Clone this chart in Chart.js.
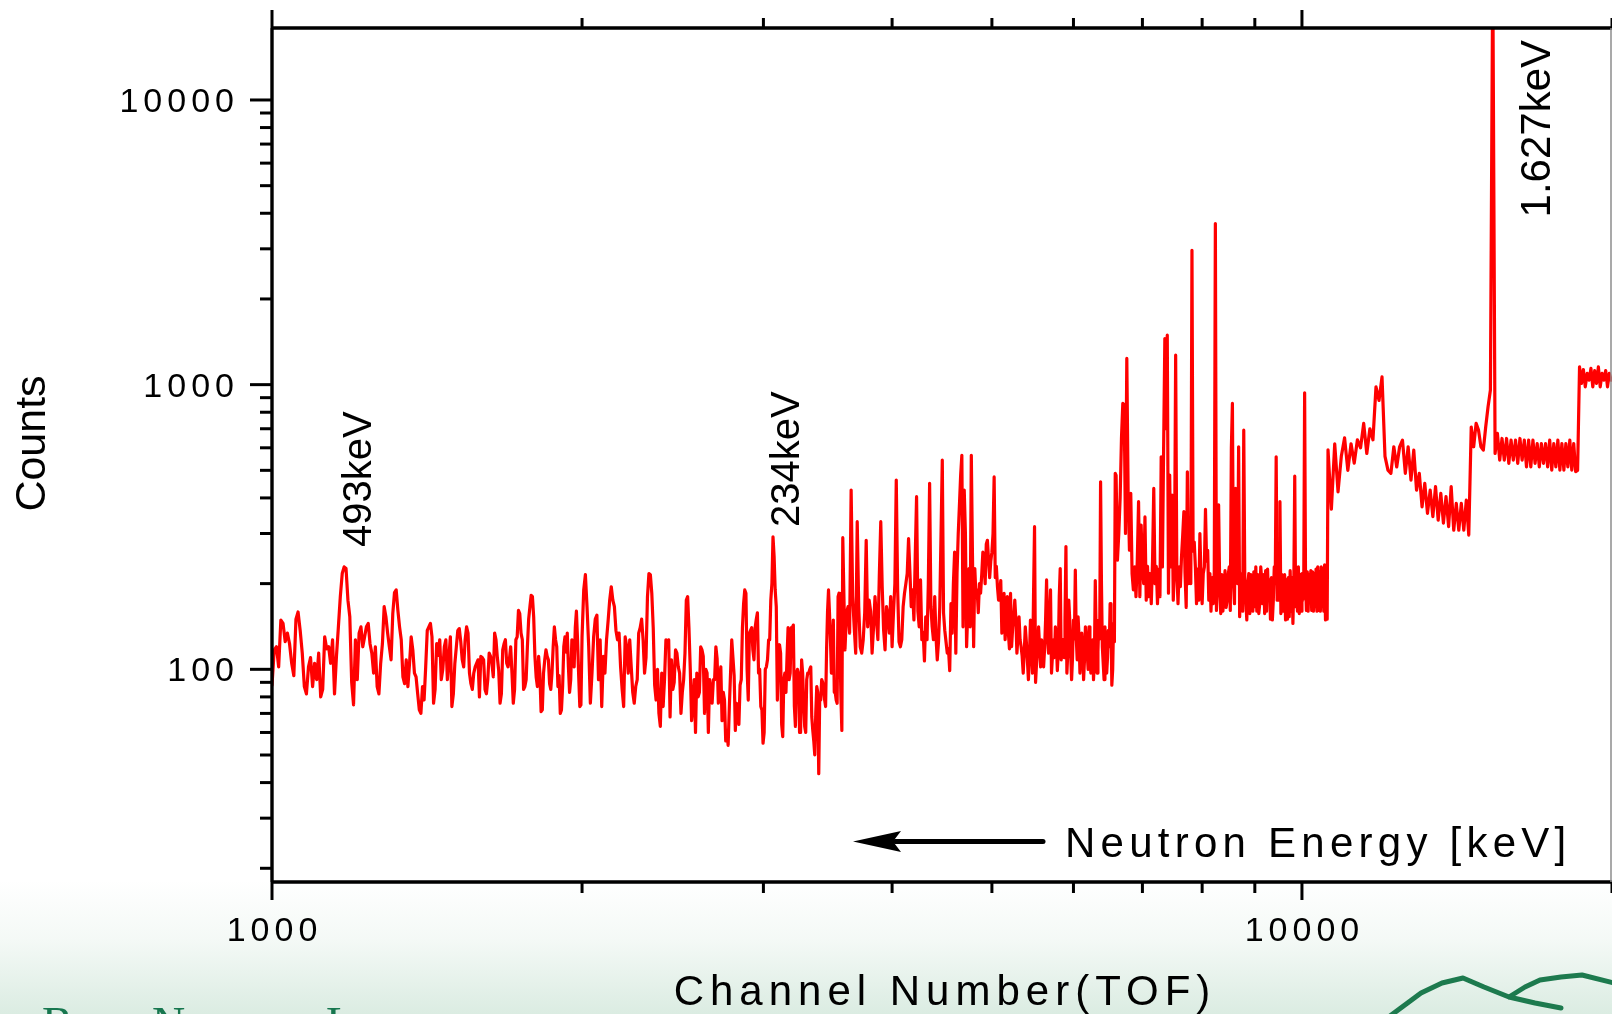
<!DOCTYPE html>
<html>
<head>
<meta charset="utf-8">
<title>Counts vs Channel Number (TOF)</title>
<script src="https://cdn.jsdelivr.net/npm/chart.js@4.4.1/dist/chart.umd.min.js"></script>
<style>
  html, body { margin: 0; padding: 0; }
  body {
    width: 1612px;
    height: 1014px;
    overflow: hidden;
    background: linear-gradient(to bottom, #ffffff 0px, #ffffff 880px, #f4f9f6 940px, #dbece2 1014px);
  }
  canvas { display: block; }
</style>
</head>
<body>
<canvas id="spectrum" width="1612" height="1014"></canvas>
<script>
// ====== DATA ======
// each piece of the spectrum: first channel and channel step
const segStart = [1000, 2000, 3600, 6600, 10600];
const segStep = [5, 7.5, 12.5, 20, 80];

// counts, one value per channel step
const countsA = [ // 1000 - 1995
  88, 117, 120, 102, 149, 145, 125, 134, 123, 105,
  95, 150, 159, 137, 114, 87, 82, 102, 110, 87,
  105, 92, 114, 80, 85, 130, 118, 120, 105, 127,
  82, 111, 141, 180, 217, 229, 226, 175, 153, 90,
  75, 127, 92, 134, 141, 120, 130, 141, 145, 123,
  114, 97, 120, 87, 82, 105, 123, 166, 153, 134,
  120, 108, 157, 186, 190, 161, 141, 127, 94, 89,
  108, 87, 105, 130, 117, 97, 94, 82, 72, 70,
  87, 78, 102, 137, 141, 145, 130, 76, 85, 123,
  112, 127, 92, 100, 120, 127, 92, 110, 130, 74,
  82, 105, 120, 137, 139, 125, 108, 102, 127, 141,
  134, 97, 89, 85, 97, 102, 105, 108, 80, 111,
  110, 108, 85, 82, 92, 114, 111, 105, 94, 134,
  127, 110, 99, 76, 82, 117, 123, 127, 105, 102,
  108, 120, 97, 76, 85, 127, 130, 161, 157, 134,
  127, 85, 87, 92, 120, 150, 166, 182, 180, 153,
  111, 94, 87, 111, 97, 71, 72, 97, 108, 117,
  111, 108, 89, 85, 97, 120, 141, 127, 120, 87,
  95, 70, 72, 87, 120, 130, 115, 134, 102, 83,
  92, 127, 120, 102, 140, 160, 127, 95, 74, 75
];
const countsB = [ // 2000 - 3582.5
  130, 190, 215, 165, 120, 76, 97, 130, 150, 155,
  92, 127, 74, 111, 97, 127, 148, 175, 195, 175,
  166, 137, 127, 134, 102, 85, 74, 130, 120, 97,
  127, 102, 83, 76, 87, 92, 134, 140, 150, 127,
  97, 110, 180, 217, 215, 185, 140, 88, 78, 100,
  70, 63, 97, 74, 92, 127, 120, 127, 68, 108,
  85, 90, 117, 114, 102, 97, 70, 83, 92, 114,
  175, 180, 140, 100, 66, 75, 92, 60, 97, 80,
  83, 120, 117, 111, 70, 100, 97, 60, 92, 85,
  76, 92, 92, 120, 109, 76, 92, 102, 66, 83,
  78, 56, 61, 54, 74, 97, 127, 110, 95, 61,
  76, 70, 64, 88, 92, 140, 170, 190, 185, 100,
  78, 134, 137, 140, 117, 108, 140, 150, 158, 97,
  100, 74, 72, 55, 60, 100, 102, 108, 127, 127,
  175, 200, 292, 250, 190, 166, 78, 110, 122, 114,
  64, 58, 92, 97, 83, 110, 140, 92, 97, 140,
  140, 143, 74, 63, 97, 100, 97, 60, 60, 108,
  97, 76, 63, 60, 92, 97, 97, 100, 102, 68,
  61, 56, 50, 70, 87, 83, 43, 80, 78, 92,
  90, 85, 78, 74, 117, 160, 190, 158, 127, 97,
  120, 149, 83, 83, 78, 76, 180, 185, 120, 80,
  61, 290
];
const countsC = [ // 3600 - 6587.5
  117, 158, 166, 134, 426, 180, 141, 114, 330, 166,
  120, 114, 127, 158, 284, 141, 175, 160, 114, 140,
  180, 150, 127, 215, 330, 195, 137, 117, 166, 155,
  134, 180, 120, 158, 200, 462, 190, 125, 120, 127,
  166, 185, 200, 217, 288, 220, 166, 190, 149, 250,
  404, 160, 141, 206, 127, 135, 107, 153, 127, 200,
  450, 166, 141, 127, 180, 130, 108, 125, 166, 300,
  543, 158, 137, 125, 114, 118, 99, 170, 134, 200,
  258, 114, 217, 300, 378, 480, 565, 141, 426, 300,
  120, 160, 226, 141, 565, 250, 120, 226, 180, 190,
  158, 200, 185, 215, 258, 240, 200, 275, 284, 243,
  210, 240, 258, 300, 474, 210, 230, 195, 175, 185,
  205, 134, 160, 185, 127, 150, 180, 134, 118, 185,
  120, 140, 153, 175, 150, 114, 130, 153, 127, 120,
  111, 97, 115, 141, 125, 108, 92, 110, 149, 125,
  97, 180, 317, 90, 105, 120, 141, 120, 102, 127,
  112, 102, 118, 149, 206, 130, 114, 150, 190, 97,
  112, 127, 110, 141, 125, 99, 115, 180, 226, 108,
  125, 127, 110, 150, 270, 97, 115, 175, 150, 114,
  92, 110, 149, 128, 223, 130, 108, 153, 130, 97,
  112, 134, 118, 92, 108, 141, 125, 114, 100, 141,
  125, 97, 112, 127, 92, 108, 205, 130, 97, 115,
  149, 128, 456, 200, 120, 105, 92, 141, 122, 97,
  110, 137, 120, 170, 150, 88, 100, 145, 125, 488
];
const countsD = [ // 6600 - 10580
  480, 242, 300, 400, 650, 860, 850, 300, 1236, 415,
  262, 415, 217, 190, 229, 180, 240, 388, 180, 321,
  229, 200, 343, 175, 230, 180, 217, 170, 240, 432,
  200, 230, 170, 225, 180, 558, 229, 600, 1452, 700,
  1492, 185, 481, 229, 409, 175, 230, 1269, 220, 170,
  229, 195, 250, 296, 358, 217, 165, 494, 200, 230,
  200, 2966, 260, 280, 229, 170, 225, 175, 300, 210,
  170, 217, 229, 365, 240, 262, 175, 217, 160, 210,
  170, 220, 3681, 161, 205, 378, 200, 157, 215, 160,
  190, 222, 165, 175, 215, 229, 161, 600, 859, 200,
  170, 432, 220, 200, 605, 153, 210, 217, 160, 692,
  210, 175, 149, 200, 217, 157, 215, 211, 160, 220,
  166, 229, 160, 215, 157, 170, 229, 206, 170, 215,
  157, 222, 160, 225, 175, 206, 150, 210, 149, 175,
  229, 200, 558, 175, 210, 175, 388, 157, 215, 200,
  160, 215, 149, 206, 150, 210, 153, 222, 160, 210,
  145, 200, 477, 166, 220, 160, 229, 157, 215, 160,
  217, 175, 200, 936, 210, 161, 220, 160, 215, 190,
  222, 161, 220, 160, 217, 166, 225, 160, 229, 161,
  220, 160, 229, 166, 225, 160, 233, 149, 215, 150
];
const countsE = [ // 10600 - 19960
  590, 365, 620, 420, 560, 650, 500, 620, 530, 640,
  600, 731, 573, 700, 640, 982, 880, 1065, 560, 501,
  488, 605, 514, 605, 638, 488, 605, 462, 589, 426,
  488, 372, 450, 353, 426, 344, 438, 334, 415, 326,
  404, 317, 438, 308, 383, 308, 383, 308, 393, 296,
  710, 605, 731, 692, 605, 589, 710, 836, 957, 30000,
  573, 674, 543, 647, 543, 647, 529, 638, 543, 638,
  529, 647, 543, 638, 514, 638, 514, 638, 529, 621,
  514, 621, 529, 621, 514, 638, 501, 621, 514, 638,
  501, 621, 501, 621, 514, 638, 501, 621, 495, 500,
  1155, 1010, 1130, 982, 1095, 1037, 1140, 982, 1120, 1010,
  1155, 982, 1095, 1037, 1120, 982, 1095, 1037
];

// axes
const xRange = [1000, 20000];
const yRange = [17.9, 17900];
const xMajorTicks = [1000, 10000];
const xMinorTicks = [2000, 3000, 4000, 5000, 6000, 7000, 8000, 9000, 20000];
const yMajorTicks = [100, 1000, 10000];
const yMinorTicks = [20, 30, 40, 50, 60, 70, 80, 90,
  200, 300, 400, 500, 600, 700, 800, 900,
  2000, 3000, 4000, 5000, 6000, 7000, 8000, 9000];

// peak labels: text, channel and count where the label sits
const peakLabels = ['493keV', '234keV', '1.627keV'];
const peakLabelChannel = [1249, 3250, 17420];
const peakLabelCount = [466, 547, 7925];

// ====== BUILD POINTS ======
const segments = [countsA, countsB, countsC, countsD, countsE];
const points = [];
segments.forEach((counts, s) => {
  counts.forEach((c, i) => points.push({ x: segStart[s] + i * segStep[s], y: c }));
});

const FONT = '"Liberation Sans", Arial, sans-serif';

// ====== AXES, LABELS AND DECORATION ======
const axisFrame = {
  id: 'axisFrame',
  afterDatasetsDraw(chart) {
    const { ctx, chartArea: area } = chart;
    const xs = chart.scales.x;
    const ys = chart.scales.y;
    ctx.save();

    // box
    ctx.strokeStyle = '#000';
    ctx.lineWidth = 3.4;
    ctx.beginPath();
    ctx.moveTo(area.left, area.top); ctx.lineTo(area.right, area.top);
    ctx.moveTo(area.left, area.bottom); ctx.lineTo(area.right, area.bottom);
    ctx.moveTo(area.left, area.top); ctx.lineTo(area.left, area.bottom);
    ctx.stroke();

    ctx.strokeStyle = '#8c8c8c';
    ctx.lineWidth = 1.5;
    ctx.beginPath();
    ctx.moveTo(area.right - 1, area.top);
    ctx.lineTo(area.right - 1, area.bottom);
    ctx.stroke();

    // ticks
    ctx.strokeStyle = '#000';
    ctx.lineWidth = 3;
    const tick = (x1, y1, x2, y2) => {
      ctx.beginPath(); ctx.moveTo(x1, y1); ctx.lineTo(x2, y2); ctx.stroke();
    };
    xMajorTicks.forEach(v => {
      const px = xs.getPixelForValue(v);
      tick(px, area.bottom, px, area.bottom + 18);
      tick(px, area.top, px, area.top - 18);
    });
    xMinorTicks.forEach(v => {
      const px = xs.getPixelForValue(v);
      tick(px, area.bottom, px, area.bottom + 11);
      tick(px, area.top, px, area.top - 10);
    });
    yMajorTicks.forEach(v => {
      const py = ys.getPixelForValue(v);
      tick(area.left, py, area.left - 22, py);
    });
    yMinorTicks.forEach(v => {
      const py = ys.getPixelForValue(v);
      tick(area.left, py, area.left - 12, py);
    });

    // tick labels
    ctx.fillStyle = '#000';
    ctx.font = '34px ' + FONT;
    ctx.letterSpacing = '5px';
    ctx.textBaseline = 'alphabetic';
    ctx.textAlign = 'center';
    xMajorTicks.forEach(v => ctx.fillText(String(v), xs.getPixelForValue(v) + 2.5, area.bottom + 59));
    ctx.textAlign = 'right';
    yMajorTicks.forEach(v => ctx.fillText(String(v), area.left - 33, ys.getPixelForValue(v) + 12));

    // x title
    ctx.font = '42px ' + FONT;
    ctx.letterSpacing = '6px';
    ctx.textAlign = 'center';
    ctx.fillText('Channel Number(TOF)', (area.left + area.right) / 2 + 3, 1005);

    // energy direction note
    ctx.letterSpacing = '5.25px';
    ctx.textAlign = 'left';
    ctx.fillText('Neutron Energy [keV]', 1065, 857);
    ctx.lineWidth = 5;
    ctx.lineCap = 'round';
    tick(1043, 841.5, 895, 841.5);
    ctx.beginPath();
    ctx.moveTo(853, 841.5);
    ctx.lineTo(901, 831);
    ctx.lineTo(893, 841.5);
    ctx.lineTo(901, 852);
    ctx.closePath();
    ctx.fill();

    // y title and peak labels (rotated)
    ctx.letterSpacing = '0px';
    ctx.textAlign = 'center';
    ctx.font = '43px ' + FONT;
    ctx.save();
    ctx.translate(45, 443.5);
    ctx.rotate(-Math.PI / 2);
    ctx.fillText('Counts', 0, 0);
    ctx.restore();

    peakLabels.forEach((txt, i) => {
      ctx.save();
      ctx.translate(xs.getPixelForValue(peakLabelChannel[i]), ys.getPixelForValue(peakLabelCount[i]));
      ctx.rotate(-Math.PI / 2);
      ctx.font = (i === 2 ? '42px ' : '40px ') + FONT;
      ctx.fillText(txt, 0, 0);
      ctx.restore();
    });

    // footer: lab name (cut by the page edge) and logo line
    ctx.fillStyle = '#17774f';
    ctx.font = '46px "Liberation Serif", "Times New Roman", serif';
    ctx.textAlign = 'left';
    ctx.fillText('B', 42, 1039);
    ctx.fillText('N', 152, 1039);
    ctx.fillText('L', 326, 1039);

    ctx.strokeStyle = '#1d7a4e';
    ctx.lineWidth = 5;
    ctx.lineJoin = 'round';
    ctx.beginPath();
    ctx.moveTo(1390, 1016);
    ctx.lineTo(1421, 993);
    ctx.lineTo(1442, 983);
    ctx.lineTo(1463, 978);
    ctx.lineTo(1484, 987);
    ctx.lineTo(1509, 997);
    ctx.lineTo(1535, 1003);
    ctx.lineTo(1561, 1008);
    ctx.moveTo(1509, 997);
    ctx.lineTo(1525, 987);
    ctx.lineTo(1540, 980);
    ctx.lineTo(1561, 977);
    ctx.lineTo(1582, 975);
    ctx.lineTo(1614, 983);
    ctx.stroke();

    ctx.restore();
  }
};

// ====== CHART ======
new Chart(document.getElementById('spectrum'), {
  type: 'line',
  data: {
    datasets: [{
      data: points,
      borderColor: '#ff0000',
      borderWidth: 3.2,
      borderJoinStyle: 'round',
      borderCapStyle: 'round',
      pointRadius: 0,
      tension: 0,
      fill: false
    }]
  },
  options: {
    responsive: false,
    animation: false,
    devicePixelRatio: 1,
    parsing: false,
    events: [],
    layout: { padding: { left: 272, top: 28, right: 0, bottom: 132 } },
    plugins: {
      legend: { display: false },
      tooltip: { enabled: false }
    },
    scales: {
      x: { type: 'logarithmic', min: xRange[0], max: xRange[1], display: false },
      y: { type: 'logarithmic', min: yRange[0], max: yRange[1], display: false }
    }
  },
  plugins: [axisFrame]
});
</script>
</body>
</html>
